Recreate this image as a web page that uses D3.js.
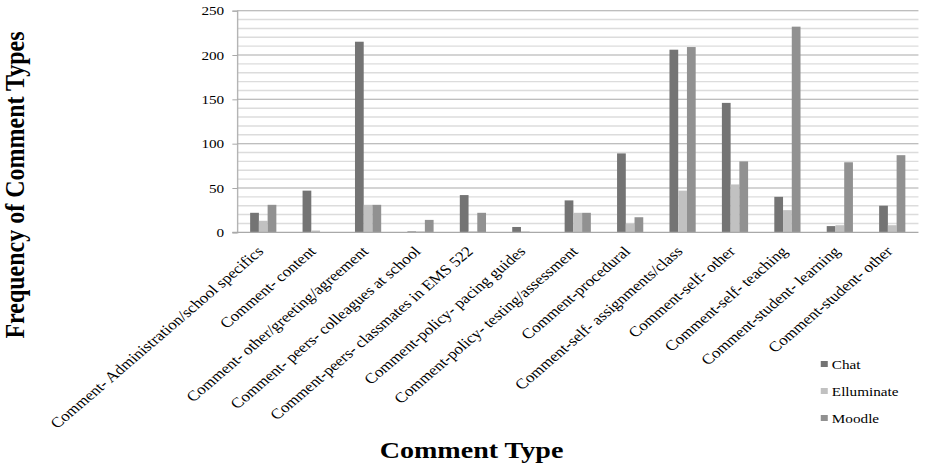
<!DOCTYPE html>
<html>
<head>
<meta charset="utf-8">
<script src="https://cdn.jsdelivr.net/npm/d3@7"></script>
<style>
  html, body { margin: 0; padding: 0; background: #fff; }
  svg { display: block; }
</style>
</head>
<body>
<script>
const categories = [
  "Comment- Administration/school specifics",
  "Comment- content",
  "Comment- other/greeting/agreement",
  "Comment- peers- colleagues at school",
  "Comment-peers- classmates in EMS 522",
  "Comment-policy- pacing guides",
  "Comment-policy- testing/assessment",
  "Comment-procedural",
  "Comment-self- assignments/class",
  "Comment-self- other",
  "Comment-self- teaching",
  "Comment-student- learning",
  "Comment-student- other"
];
const seriesNames = ["Chat", "Elluminate", "Moodle"];
const chat       = [22, 47, 215, 1, 42, 6, 36, 89, 206, 146, 40, 7, 30];
const elluminate = [13, 2, 31, 1, 1, 1, 22, 10, 47, 54, 25, 8, 8];
const moodle     = [31, 0, 31, 14, 22, 0, 22, 17, 209, 80, 232, 79, 87];
const yTicks = [0, 50, 100, 150, 200, 250];

const seriesValues = [chat, elluminate, moodle];
const colors = ["#747474", "#c1c1c1", "#919191"];
const FONT = '"Liberation Serif", "Times New Roman", Times, serif';

const W = 925, H = 467;
const stretch = 1.17;              // horizontal scale of the whole drawing

const plot = { left: 202.6, right: 785, top: 10.7, bottom: 232.3 };

const svg = d3.select("body").append("svg")
  .attr("width", W).attr("height", H)
  .style("font-family", FONT);
const root = svg.append("g").attr("transform", `scale(${stretch},1)`);

const x0 = d3.scaleBand()
  .domain(categories)
  .range([plot.left, plot.right])
  .paddingInner(0.5)
  .paddingOuter(0.25);
const x1 = d3.scaleBand()
  .domain(seriesNames)
  .range([0, x0.bandwidth()]);
const y = d3.scaleLinear().domain([0, 250]).range([plot.bottom, plot.top]);

// minor gridlines every 10
const minor = d3.range(10, 250, 10).filter(v => v % 50 !== 0);
root.append("g").selectAll("line").data(minor).join("line")
  .attr("x1", plot.left).attr("x2", plot.right)
  .attr("y1", d => y(d)).attr("y2", d => y(d))
  .attr("stroke", "#dcdcdc").attr("stroke-width", 1.4);

// major gridlines + y axis
const yAxis = d3.axisLeft(y).tickValues(yTicks).tickSize(4).tickPadding(7)
  .tickFormat(d3.format("d"));
const gy = root.append("g").attr("transform", `translate(${plot.left},0)`).call(yAxis);
gy.attr("font-family", null).attr("font-size", null);
gy.select(".domain").attr("stroke", "#b4b4b4").attr("stroke-width", 1.2);
gy.selectAll(".tick line").attr("stroke", "#a9a9a9");
gy.selectAll(".tick text")
  .style("font-family", FONT)
  .style("font-size", "13px").attr("fill", "#000");
root.append("g").selectAll("line").data(yTicks.filter(d => d > 0)).join("line")
  .attr("x1", plot.left).attr("x2", plot.right)
  .attr("y1", d => y(d)).attr("y2", d => y(d))
  .attr("stroke", "#a9a9a9").attr("stroke-width", 1);

// bars
const groups = root.append("g").selectAll("g").data(categories).join("g")
  .attr("transform", d => `translate(${x0(d)},0)`);
groups.selectAll("rect")
  .data((d, i) => seriesNames.map((s, k) => ({ s, k, v: seriesValues[k][i] })))
  .join("rect")
  .attr("x", d => x1(d.s))
  .attr("width", x1.bandwidth())
  .attr("y", d => y(d.v))
  .attr("height", d => y(0) - y(d.v))
  .attr("fill", d => colors[d.k]);

// x axis line
root.append("line")
  .attr("x1", plot.left - 4).attr("x2", plot.right)
  .attr("y1", y(0)).attr("y2", y(0))
  .attr("stroke", "#a9a9a9").attr("stroke-width", 1.2);

// category labels
root.append("g").selectAll("text").data(categories).join("text")
  .attr("transform", d => `translate(${x0(d) + x0.bandwidth() / 2 + 1},${y(0) + 20}) rotate(-45)`)
  .attr("text-anchor", "end")
  .style("font-family", FONT)
  .style("font-size", "14.6px")
  .attr("fill", "#000")
  .text(d => d);

// axis titles
root.append("text")
  .attr("x", 403).attr("y", 458)
  .attr("text-anchor", "middle")
  .style("font-family", FONT)
  .style("font-size", "24px").style("font-weight", "bold")
  .text("Comment Type");
root.append("text")
  .attr("transform", `translate(20.5,185) rotate(-90)`)
  .attr("text-anchor", "middle")
  .style("font-family", FONT)
  .style("font-size", "24px").style("font-weight", "bold")
  .text("Frequency of Comment Types");

// legend
const legend = root.append("g").attr("transform", "translate(701.5,0)");
const lg = legend.selectAll("g").data(seriesNames).join("g")
  .attr("transform", (d, i) => `translate(0,${369 + i * 27})`);
lg.append("rect").attr("x", 0).attr("y", -8).attr("width", 6).attr("height", 6)
  .attr("fill", (d, i) => colors[i]);
lg.append("text").attr("x", 9.5).attr("y", 0)
  .style("font-family", FONT)
  .style("font-size", "13px").text(d => d);
</script>
</body>
</html>
